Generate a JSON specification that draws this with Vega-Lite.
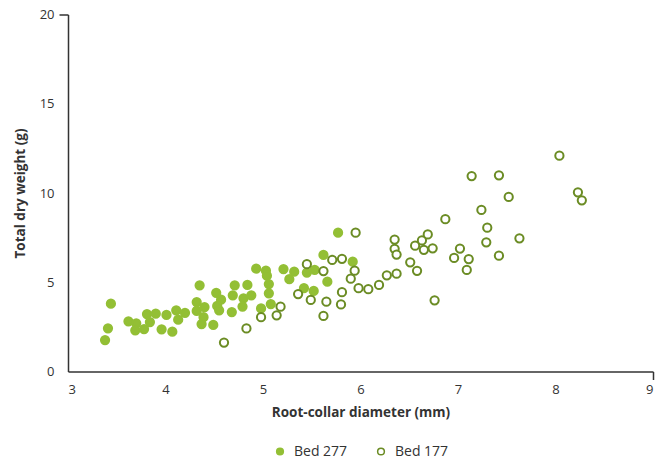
{
  "$schema": "https://vega.github.io/schema/vega-lite/v6.json",
  "autosize": "none",
  "width": 585,
  "height": 357,
  "padding": {"left": 68, "top": 14.5, "right": 12, "bottom": 90.5},
  "background": "white",
  "config": {
    "view": {"stroke": null},
    "font": "Open Sans"
  },
  "data": {
    "values": [
      {"d": 3.38, "w": 1.76, "bed": "Bed 277"},
      {"d": 3.41, "w": 2.42, "bed": "Bed 277"},
      {"d": 3.44, "w": 3.80, "bed": "Bed 277"},
      {"d": 3.62, "w": 2.81, "bed": "Bed 277"},
      {"d": 3.70, "w": 2.70, "bed": "Bed 277"},
      {"d": 3.69, "w": 2.31, "bed": "Bed 277"},
      {"d": 3.78, "w": 2.38, "bed": "Bed 277"},
      {"d": 3.84, "w": 2.77, "bed": "Bed 277"},
      {"d": 3.81, "w": 3.22, "bed": "Bed 277"},
      {"d": 3.90, "w": 3.24, "bed": "Bed 277"},
      {"d": 4.01, "w": 3.17, "bed": "Bed 277"},
      {"d": 3.96, "w": 2.36, "bed": "Bed 277"},
      {"d": 4.07, "w": 2.23, "bed": "Bed 277"},
      {"d": 4.11, "w": 3.43, "bed": "Bed 277"},
      {"d": 4.13, "w": 2.90, "bed": "Bed 277"},
      {"d": 4.20, "w": 3.29, "bed": "Bed 277"},
      {"d": 4.32, "w": 3.89, "bed": "Bed 277"},
      {"d": 4.35, "w": 4.83, "bed": "Bed 277"},
      {"d": 4.32, "w": 3.39, "bed": "Bed 277"},
      {"d": 4.40, "w": 3.61, "bed": "Bed 277"},
      {"d": 4.39, "w": 3.04, "bed": "Bed 277"},
      {"d": 4.37, "w": 2.66, "bed": "Bed 277"},
      {"d": 4.49, "w": 2.61, "bed": "Bed 277"},
      {"d": 4.52, "w": 4.41, "bed": "Bed 277"},
      {"d": 4.57, "w": 4.02, "bed": "Bed 277"},
      {"d": 4.53, "w": 3.67, "bed": "Bed 277"},
      {"d": 4.55, "w": 3.43, "bed": "Bed 277"},
      {"d": 4.68, "w": 3.33, "bed": "Bed 277"},
      {"d": 4.69, "w": 4.27, "bed": "Bed 277"},
      {"d": 4.71, "w": 4.83, "bed": "Bed 277"},
      {"d": 4.84, "w": 4.85, "bed": "Bed 277"},
      {"d": 4.80, "w": 4.10, "bed": "Bed 277"},
      {"d": 4.88, "w": 4.27, "bed": "Bed 277"},
      {"d": 4.79, "w": 3.64, "bed": "Bed 277"},
      {"d": 4.93, "w": 5.76, "bed": "Bed 277"},
      {"d": 4.98, "w": 3.53, "bed": "Bed 277"},
      {"d": 5.03, "w": 5.65, "bed": "Bed 277"},
      {"d": 5.04, "w": 5.37, "bed": "Bed 277"},
      {"d": 5.06, "w": 4.90, "bed": "Bed 277"},
      {"d": 5.06, "w": 4.38, "bed": "Bed 277"},
      {"d": 5.08, "w": 3.78, "bed": "Bed 277"},
      {"d": 5.21, "w": 5.74, "bed": "Bed 277"},
      {"d": 5.32, "w": 5.59, "bed": "Bed 277"},
      {"d": 5.27, "w": 5.17, "bed": "Bed 277"},
      {"d": 5.42, "w": 4.67, "bed": "Bed 277"},
      {"d": 5.45, "w": 5.54, "bed": "Bed 277"},
      {"d": 5.53, "w": 5.69, "bed": "Bed 277"},
      {"d": 5.52, "w": 4.51, "bed": "Bed 277"},
      {"d": 5.66, "w": 5.03, "bed": "Bed 277"},
      {"d": 5.62, "w": 6.53, "bed": "Bed 277"},
      {"d": 5.77, "w": 7.78, "bed": "Bed 277"},
      {"d": 5.92, "w": 6.15, "bed": "Bed 277"},
      {"d": 4.60, "w": 1.62, "bed": "Bed 177"},
      {"d": 4.83, "w": 2.41, "bed": "Bed 177"},
      {"d": 4.98, "w": 3.04, "bed": "Bed 177"},
      {"d": 5.14, "w": 3.15, "bed": "Bed 177"},
      {"d": 5.18, "w": 3.63, "bed": "Bed 177"},
      {"d": 5.36, "w": 4.34, "bed": "Bed 177"},
      {"d": 5.49, "w": 4.01, "bed": "Bed 177"},
      {"d": 5.45, "w": 6.01, "bed": "Bed 177"},
      {"d": 5.62, "w": 3.11, "bed": "Bed 177"},
      {"d": 5.65, "w": 3.91, "bed": "Bed 177"},
      {"d": 5.62, "w": 5.63, "bed": "Bed 177"},
      {"d": 5.71, "w": 6.25, "bed": "Bed 177"},
      {"d": 5.81, "w": 6.31, "bed": "Bed 177"},
      {"d": 5.81, "w": 4.44, "bed": "Bed 177"},
      {"d": 5.80, "w": 3.76, "bed": "Bed 177"},
      {"d": 5.90, "w": 5.20, "bed": "Bed 177"},
      {"d": 5.94, "w": 5.65, "bed": "Bed 177"},
      {"d": 5.95, "w": 7.78, "bed": "Bed 177"},
      {"d": 5.98, "w": 4.67, "bed": "Bed 177"},
      {"d": 6.08, "w": 4.61, "bed": "Bed 177"},
      {"d": 6.19, "w": 4.85, "bed": "Bed 177"},
      {"d": 6.27, "w": 5.39, "bed": "Bed 177"},
      {"d": 6.37, "w": 5.48, "bed": "Bed 177"},
      {"d": 6.35, "w": 7.39, "bed": "Bed 177"},
      {"d": 6.35, "w": 6.87, "bed": "Bed 177"},
      {"d": 6.37, "w": 6.55, "bed": "Bed 177"},
      {"d": 6.51, "w": 6.12, "bed": "Bed 177"},
      {"d": 6.58, "w": 5.64, "bed": "Bed 177"},
      {"d": 6.56, "w": 7.05, "bed": "Bed 177"},
      {"d": 6.63, "w": 7.34, "bed": "Bed 177"},
      {"d": 6.69, "w": 7.68, "bed": "Bed 177"},
      {"d": 6.65, "w": 6.82, "bed": "Bed 177"},
      {"d": 6.74, "w": 6.90, "bed": "Bed 177"},
      {"d": 6.87, "w": 8.53, "bed": "Bed 177"},
      {"d": 6.76, "w": 3.99, "bed": "Bed 177"},
      {"d": 6.96, "w": 6.36, "bed": "Bed 177"},
      {"d": 7.02, "w": 6.89, "bed": "Bed 177"},
      {"d": 7.11, "w": 6.30, "bed": "Bed 177"},
      {"d": 7.09, "w": 5.69, "bed": "Bed 177"},
      {"d": 7.24, "w": 9.05, "bed": "Bed 177"},
      {"d": 7.30, "w": 8.06, "bed": "Bed 177"},
      {"d": 7.29, "w": 7.24, "bed": "Bed 177"},
      {"d": 7.42, "w": 6.49, "bed": "Bed 177"},
      {"d": 7.14, "w": 10.95, "bed": "Bed 177"},
      {"d": 7.42, "w": 10.99, "bed": "Bed 177"},
      {"d": 7.52, "w": 9.78, "bed": "Bed 177"},
      {"d": 7.63, "w": 7.46, "bed": "Bed 177"},
      {"d": 8.04, "w": 12.09, "bed": "Bed 177"},
      {"d": 8.23, "w": 10.04, "bed": "Bed 177"},
      {"d": 8.27, "w": 9.59, "bed": "Bed 177"}
    ]
  },
  "mark": {"type": "point", "filled": false, "shape": "circle", "size": 68, "strokeWidth": 2, "opacity": 1},
  "encoding": {
    "x": {
      "field": "d", "type": "quantitative",
      "scale": {"domain": [3, 9], "nice": false, "zero": false},
      "axis": {
        "title": "Root-collar diameter (mm)",
        "values": [3, 4, 5, 6, 7, 8, 9],
        "grid": false,
        "domainColor": "#333333", "domainWidth": 1.5,
        "ticks": true, "tickSize": 8, "tickWidth": 1.5, "tickColor": "#333333",
        "tickOpacity": {"condition": {"test": "datum.value === 9", "value": 1}, "value": 0},
        "labelFont": "Open Sans", "labelFontSize": 13, "labelColor": "#333333", "labelPadding": 4,
        "titleFont": "Open Sans", "titleFontSize": 13.5, "titleFontWeight": "bold", "titleColor": "#333333", "titlePadding": 9
      }
    },
    "y": {
      "field": "w", "type": "quantitative",
      "scale": {"domain": [0, 20], "nice": false, "zero": true},
      "axis": {
        "title": "Total dry weight (g)",
        "values": [0, 5, 10, 15, 20],
        "grid": false,
        "domainColor": "#333333", "domainWidth": 1.5,
        "ticks": true, "tickSize": 9, "tickWidth": 1.5, "tickColor": "#333333",
        "tickOpacity": {"condition": {"test": "datum.value === 20", "value": 1}, "value": 0},
        "labelFont": "Open Sans", "labelFontSize": 13, "labelColor": "#333333", "labelPadding": 5,
        "titleFont": "Open Sans", "titleFontSize": 13.5, "titleFontWeight": "bold", "titleColor": "#333333", "titlePadding": 12
      }
    },
    "fill": {
      "field": "bed", "type": "nominal",
      "scale": {"domain": ["Bed 277", "Bed 177"], "range": ["#93bf35", "#ffffff"]},
      "legend": {
        "title": null, "orient": "none", "legendX": 205, "legendY": 430, "direction": "horizontal",
        "symbolSize": 45, "symbolStrokeWidth": 1.5, "symbolType": "circle",
        "labelFont": "Open Sans", "labelFontSize": 14, "labelColor": "#333333",
        "columnPadding": 26, "labelOffset": 7
      }
    },
    "stroke": {
      "field": "bed", "type": "nominal",
      "scale": {"domain": ["Bed 277", "Bed 177"], "range": ["#93bf35", "#6b8c24"]},
      "legend": {
        "title": null, "orient": "none", "legendX": 205, "legendY": 430, "direction": "horizontal",
        "symbolSize": 45, "symbolStrokeWidth": 1.5, "symbolType": "circle",
        "labelFont": "Open Sans", "labelFontSize": 14, "labelColor": "#333333",
        "columnPadding": 26, "labelOffset": 7
      }
    }
  }
}
